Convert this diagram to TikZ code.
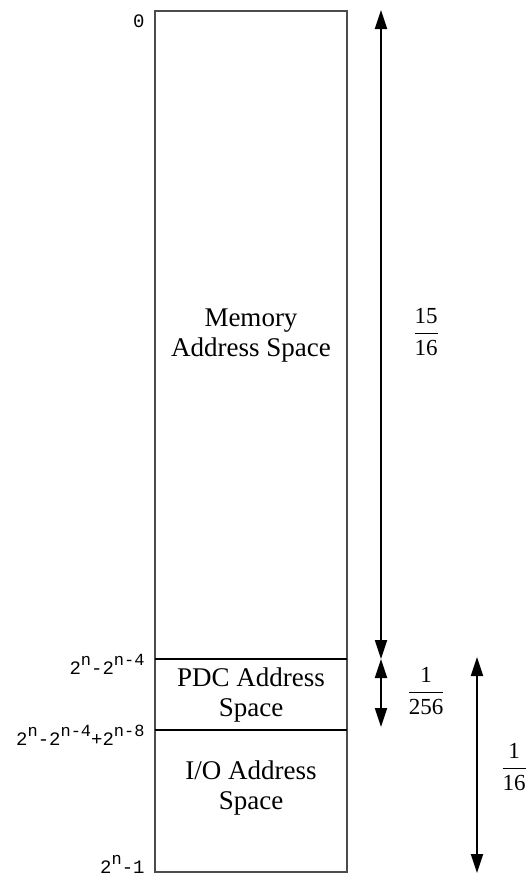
\documentclass[tikz,border=0pt]{standalone}
\usepackage{amsmath}
\usepackage{fontspec}
\setmainfont{Liberation Serif}
\newfontfamily\addrfont{Liberation Mono}
\usetikzlibrary{arrows.meta}

\newcommand\pw[1]{\raisebox{4.5pt}{\fontsize{8.5}{8.5}\selectfont #1}}

\begin{document}
\begin{tikzpicture}[
    x=0.5pt, y=-0.5pt,
    every node/.style={align=center, font=\fontsize{13.5}{15}\selectfont},
    addr/.style={anchor=east, inner sep=0pt, font=\addrfont\fontsize{9.5}{11}\selectfont},
    share/.style={font=\fontsize{11.5}{14}\selectfont},
    span/.style={{Triangle[length=9.5pt,width=6pt]}-{Triangle[length=9.5pt,width=6pt]}, line width=1pt}
    ]
    \useasboundingbox (0,0) rectangle (529,875);

    % Corners and dividers
    \coordinate (boxTop) at (155,11);
    \coordinate (boxBottom) at (347,872);
    \coordinate (pdcLeft) at (155,659);
    \coordinate (pdcRight) at (347,659);
    \coordinate (ioLeft) at (155,730);
    \coordinate (ioRight) at (347,730);

    \draw[gray!60!black, line width=0.6pt] (boxTop) rectangle (boxBottom);
    \draw[line width=0.8pt] (pdcLeft) -- (pdcRight);
    \draw[line width=0.8pt] (ioLeft) -- (ioRight);

    % Regions
    \node (memory) at (251,336) {Memory\\Address Space};
    \node (pdc) at (251,695) {PDC Address\\Space};
    \node (io) at (251,788) {I/O Address\\Space};

    % Addresses
    \node[addr] (addrZero) at (145,21) {0};
    \node[addr] (addrPdc) at (145,664) {2\pw{n}-2\pw{n-4}};
    \node[addr] (addrIo) at (145,735) {2\pw{n}-2\pw{n-4}+2\pw{n-8}};
    \node[addr] (addrEnd) at (145,864) {2\pw{n}-1};

    % Arrow ends
    \coordinate (memTop) at (381,10);
    \coordinate (memEnd) at (381,659);
    \coordinate (pdcEnd) at (381,727);
    \coordinate (ioTop) at (477,657);
    \coordinate (ioEnd) at (477,873);

    \draw[span] (memTop) -- (memEnd);
    \draw[span] (memEnd) -- (pdcEnd);
    \draw[span] (ioTop) -- (ioEnd);

    % Shares
    \node[share] (memShare) at (426,332) {$\dfrac{\text{15}}{\text{16}}$};
    \node[share] (pdcShare) at (426,691) {$\dfrac{\text{1}}{\text{256}}$};
    \node[share] (ioShare) at (514,767) {$\dfrac{\text{1}}{\text{16}}$};

\end{tikzpicture}
\end{document}
